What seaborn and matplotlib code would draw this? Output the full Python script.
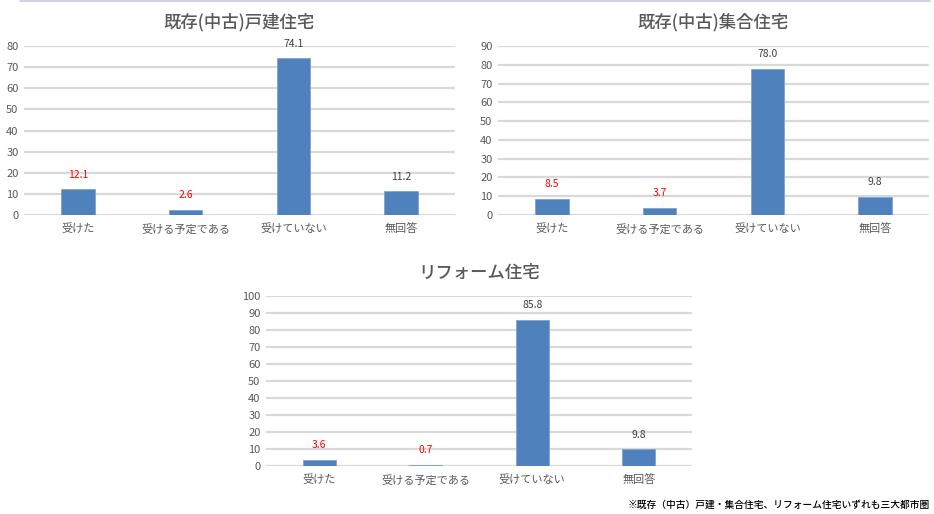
import matplotlib
matplotlib.use("Agg")
import matplotlib.pyplot as plt
import seaborn as sns
import pandas as pd
from matplotlib.lines import Line2D

sns.set_theme(style="white")
plt.rcParams['font.family'] = ['Noto Sans CJK JP', 'DejaVu Sans']

categories = ["受けた", "受ける予定である", "受けていない", "無回答"]
detached_values = [12.1, 2.6, 74.1, 11.2]
condo_values = [8.5, 3.7, 78.0, 9.8]
reform_values = [3.6, 0.7, 85.8, 9.8]

titles = ["既存(中古)戸建住宅", "既存(中古)集合住宅", "リフォーム住宅"]
ymax = [80, 90, 100]
footnote = "※既存（中古）戸建・集合住宅、リフォーム住宅いずれも三大都市圏"

W, H = 934, 514
fig = plt.figure(figsize=(W / 100, H / 100), dpi=100)
fig.patch.set_facecolor("white")

def rect(x0, x1, ytop, ybot):
    return [x0 / W, 1 - ybot / H, (x1 - x0) / W, (ybot - ytop) / H]

axes_rects = [rect(24, 455, 46, 215), rect(498, 929, 46, 215), rect(266, 692, 296, 466)]
series = [detached_values, condo_values, reform_values]

bar_color = "#4f81bd"
label_colors = ["#ff0000", "#ff0000", "#404040", "#404040"]

for r, vals, title, ym in zip(axes_rects, series, titles, ymax):
    ax = fig.add_axes(r)
    df = pd.DataFrame({"cat": categories, "val": vals})
    sns.barplot(data=df, x="cat", y="val", ax=ax, color=bar_color, saturation=1,
                width=0.31, edgecolor="#7fa3d1", linewidth=0.6, zorder=3)
    ax.set_xlim(-0.5, 3.5)
    ax.set_ylim(0, ym)
    ax.set_yticks(range(0, ym + 1, 10))
    ax.yaxis.grid(True, color="#d9d9d9", linewidth=1.6, zorder=0)
    ax.set_axisbelow(True)
    for s in ax.spines.values():
        s.set_visible(False)
    ax.set_xlabel("")
    ax.set_ylabel("")
    ax.tick_params(axis="y", length=0, pad=4, labelsize=8, labelcolor="#595959")
    ax.tick_params(axis="x", length=0, pad=6, labelsize=8, labelcolor="#595959")
    ax.set_title(title, fontsize=12.5, color="#595959", pad=13, fontweight="medium")
    for i, v in enumerate(vals):
        ax.annotate(f"{v:.1f}", (i, v), xytext=(0, 7), textcoords="offset points",
                    ha="center", va="bottom", fontsize=7.5, color=label_colors[i])

fig.text(930 / W, 1 - 505 / H, footnote, ha="right", va="center", fontsize=7.0,
         color="#000000", fontweight="medium")
fig.add_artist(Line2D([20 / W, 930 / W], [1 - 1 / H, 1 - 1 / H], color="#c8c8e0", linewidth=1.2))

fig.savefig("out.png", dpi=100, facecolor="white")
